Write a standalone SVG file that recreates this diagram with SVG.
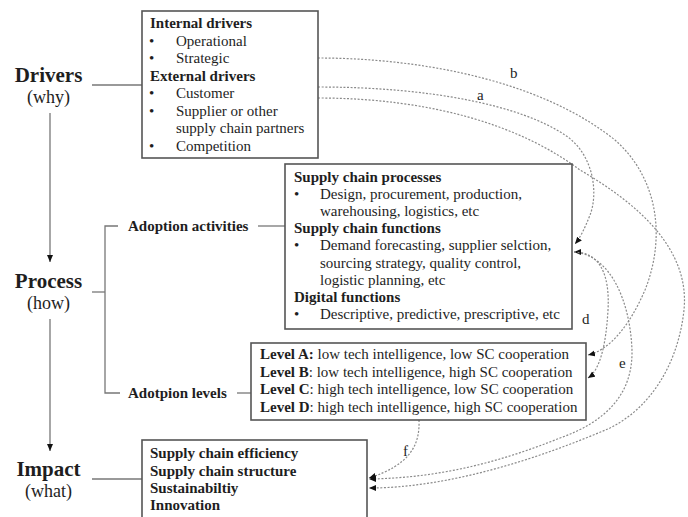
<svg xmlns="http://www.w3.org/2000/svg" width="688" height="517" viewBox="0 0 688 517">
<style>
  text { font-family: "Liberation Serif", "Times New Roman", serif; fill: #1e1e1e; }
  .big { font-size: 21px; font-weight: bold; }
  .sub { font-size: 18px; }
  .t { font-size: 15px; }
  .b { font-weight: bold; }
  .box { fill: #fff; stroke: #555; stroke-width: 1.6; }
  .ln { fill: none; stroke: #777; stroke-width: 1.3; }
  .dash { fill: none; stroke: #8a8a8a; stroke-width: 1.2; stroke-dasharray: 2 1.6; }
  .lbl { font-size: 15px; }
</style>
<defs>
  <marker id="ah" markerUnits="userSpaceOnUse" markerWidth="8" markerHeight="7" refX="7" refY="3" orient="auto">
    <path d="M0,0 L7,3 L0,6 z" fill="#111"/>
  </marker>
  <marker id="ahs" markerUnits="userSpaceOnUse" markerWidth="8" markerHeight="7" refX="7" refY="3" orient="auto-start-reverse">
    <path d="M0,0 L7,3 L0,6 z" fill="#111"/>
  </marker>
</defs>

<rect width="688" height="517" fill="#fff"/>

<g id="connectors">
  <!-- solid structure lines -->
  <line class="ln" x1="92" y1="85" x2="142" y2="85"/>
  <line class="ln" x1="50" y1="113" x2="50" y2="262" marker-end="url(#ah)"/>
  <line class="ln" x1="92" y1="292" x2="105" y2="292"/>
  <polyline class="ln" points="118,226 105,226 105,393 120,393"/>
  <line class="ln" x1="258" y1="226" x2="285" y2="226"/>
  <line class="ln" x1="237" y1="393" x2="251" y2="393"/>
  <line class="ln" x1="50" y1="319" x2="50" y2="451" marker-end="url(#ah)"/>
  <line class="ln" x1="92" y1="479" x2="142" y2="479"/>

  <!-- dashed relationship curves -->
  <path id="curve-a" class="dash" d="M318,87 C430,87 520,105 565,135 C595,155 598,195 590,215 C585,228 580,238 575,244" marker-end="url(#ah)"/>
  <path id="curve-b" class="dash" d="M318,58 C420,58 540,80 615,140 C660,180 665,240 645,290 C630,325 610,350 588,355" marker-end="url(#ah)"/>
  <path id="curve-outer" class="dash" d="M318,98 C430,98 520,125 580,170 C640,205 690,250 684,310 C678,365 650,408 610,428 C540,458 450,488 369,488" marker-end="url(#ah)"/>
  <path id="curve-d" class="dash" d="M574,252 C600,252 610,275 608,310 C606,345 600,370 588,378" marker-start="url(#ahs)" marker-end="url(#ah)"/>
  <path id="curve-e" class="dash" d="M574,252 C610,255 630,300 632,350 C633,395 605,422 560,438 C500,462 440,478 369,479" marker-end="url(#ah)"/>
  <path id="curve-f" class="dash" d="M419,420 C420,445 410,465 369,478" marker-end="url(#ah)"/>

  <text class="lbl" x="510" y="78">b</text>
  <text class="lbl" x="477" y="100">a</text>
  <text class="lbl" x="582" y="324">d</text>
  <text class="lbl" x="619" y="368">e</text>
  <text class="lbl" x="403" y="456">f</text>
</g>

<g id="drivers-label">
  <text class="big" x="48.5" y="82" text-anchor="middle">Drivers</text>
  <text class="sub" x="48.5" y="103" text-anchor="middle">(why)</text>
</g>

<g id="process-label">
  <text class="big" x="48.5" y="288" text-anchor="middle">Process</text>
  <text class="sub" x="48.5" y="309" text-anchor="middle">(how)</text>
</g>

<g id="impact-label">
  <text class="big" x="48.5" y="476" text-anchor="middle">Impact</text>
  <text class="sub" x="48.5" y="497" text-anchor="middle">(what)</text>
</g>

<g id="drivers-box">
  <rect class="box" x="142" y="11" width="176" height="147"/>
  <text class="t b" x="150" y="28">Internal drivers</text>
  <text class="t" x="149" y="45.5">•</text><text class="t" x="176" y="45.5">Operational</text>
  <text class="t" x="149" y="63">•</text><text class="t" x="176" y="63">Strategic</text>
  <text class="t b" x="150" y="80.5">External drivers</text>
  <text class="t" x="149" y="98">•</text><text class="t" x="176" y="98">Customer</text>
  <text class="t" x="149" y="115.5">•</text><text class="t" x="176" y="115.5">Supplier or other</text>
  <text class="t" x="176" y="133">supply chain partners</text>
  <text class="t" x="149" y="150.5">•</text><text class="t" x="176" y="150.5">Competition</text>
</g>

<g id="adoption-activities">
  <text class="t b" x="128" y="231">Adoption activities</text>
</g>

<g id="process-box">
  <rect class="box" x="285" y="164" width="287" height="165"/>
  <text class="t b" x="294" y="181.5">Supply chain processes</text>
  <text class="t" x="294" y="198.7">•</text><text class="t" x="320" y="198.7">Design, procurement, production,</text>
  <text class="t" x="320" y="215.9">warehousing, logistics, etc</text>
  <text class="t b" x="294" y="233.1">Supply chain functions</text>
  <text class="t" x="294" y="250.3">•</text><text class="t" x="320" y="250.3">Demand forecasting, supplier selction,</text>
  <text class="t" x="320" y="267.5">sourcing strategy, quality control,</text>
  <text class="t" x="320" y="284.7">logistic planning, etc</text>
  <text class="t b" x="294" y="301.9">Digital functions</text>
  <text class="t" x="294" y="319.1">•</text><text class="t" x="320" y="319.1">Descriptive, predictive, prescriptive, etc</text>
</g>

<g id="adoption-levels">
  <text class="t b" x="128" y="398">Adotpion levels</text>
</g>

<g id="levels-box">
  <rect class="box" x="251" y="343" width="335" height="77"/>
  <text class="t" x="260" y="359"><tspan class="b">Level A:</tspan> low tech intelligence, low SC cooperation</text>
  <text class="t" x="260" y="376.6"><tspan class="b">Level B</tspan>: low tech intelligence, high SC cooperation</text>
  <text class="t" x="260" y="394.2"><tspan class="b">Level C</tspan>: high tech intelligence, low SC cooperation</text>
  <text class="t" x="260" y="411.8"><tspan class="b">Level D</tspan>: high tech intelligence, high SC cooperation</text>
</g>

<g id="impact-box">
  <rect class="box" x="142" y="440" width="225" height="90"/>
  <text class="t b" x="150" y="458">Supply chain efficiency</text>
  <text class="t b" x="150" y="475.5">Supply chain structure</text>
  <text class="t b" x="150" y="493">Sustainabiltiy</text>
  <text class="t b" x="150" y="510">Innovation</text>
</g>
</svg>
